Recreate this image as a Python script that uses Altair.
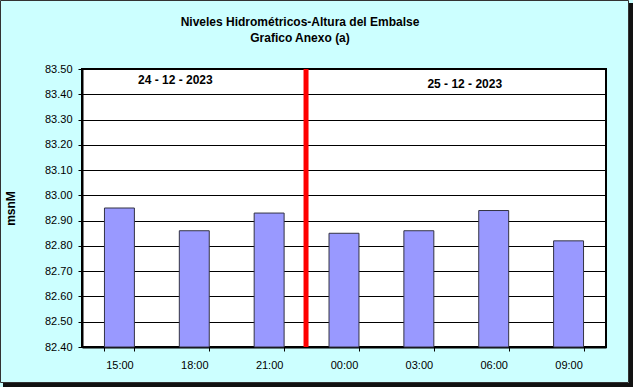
import altair as alt
import pandas as pd

hours = ["15:00", "18:00", "21:00", "00:00", "03:00", "06:00", "09:00"]
levels = [82.95, 82.86, 82.93, 82.85, 82.86, 82.94, 82.82]
date_labels = ["24 - 12 - 2023", "25 - 12 - 2023"]
date_positions = ["18:00", "06:00"]
date_levels = [83.455, 83.44]
date_dx = [-4, -14]
split_hour = ["00:00"]
title_lines = ["Niveles Hidrométricos-Altura del Embalse", "Grafico Anexo (a)"]
y_ticks = [82.4, 82.5, 82.6, 82.7, 82.8, 82.9, 83.0, 83.1, 83.2, 83.3, 83.4, 83.5]

df = pd.DataFrame({"hora": hours, "nivel": levels})
ddf = pd.DataFrame({"hora": date_positions, "nivel": date_levels, "label": date_labels, "dx": date_dx})
sdf = pd.DataFrame({"hora": split_hour})

FONT = "Liberation Sans"

xscale = alt.Scale(domain=hours, paddingInner=0.6, paddingOuter=0.3)
yscale = alt.Scale(domain=[82.4, 83.5], nice=False, zero=False)

x_axis = alt.Axis(labelAngle=0, tickBand="extent", grid=False,
                  labelFont=FONT, labelFontSize=11, labelColor="black",
                  domainColor="black", domainWidth=2, tickColor="black",
                  tickSize=4, labelPadding=8)
y_axis = alt.Axis(values=y_ticks, format=".2f", grid=True, gridColor="black",
                  gridWidth=1, labelFont=FONT, labelFontSize=11,
                  labelColor="black", domainColor="black", domainWidth=2,
                  tickColor="black", tickSize=4, labelPadding=6,
                  labelOverlap=False,
                  titleFont=FONT, titleFontSize=12, titleFontWeight="bold",
                  titleColor="black", titlePadding=27)

frame = alt.Chart(sdf).mark_rect(
    fill=None, stroke="#333333", strokeWidth=1, clip=False
).encode(
    x=alt.value(-81.5), x2=alt.value(546.5), y=alt.value(-68.5), y2=alt.value(313.5)
)
shadow = alt.Chart(sdf).mark_rect(fill="#111111", clip=False).encode(
    x=alt.value(547), x2=alt.value(551), y=alt.value(-66), y2=alt.value(318)
)
shadow2 = alt.Chart(sdf).mark_rect(fill="#111111", clip=False).encode(
    x=alt.value(-79), x2=alt.value(551), y=alt.value(314), y2=alt.value(318)
)

title1 = alt.Chart(sdf).mark_text(
    text=title_lines[0], font=FONT, fontSize=12, fontWeight="bold", color="black", clip=False
).encode(x=alt.value(218), y=alt.value(-47))
title2 = alt.Chart(sdf).mark_text(
    text=title_lines[1], font=FONT, fontSize=12, fontWeight="bold", color="black", clip=False
).encode(x=alt.value(218), y=alt.value(-31))

bars = alt.Chart(df).mark_bar(
    fill="#9999FF", stroke="#333344", strokeWidth=1
).encode(
    x=alt.X("hora:N", scale=xscale, sort=hours, title=None, axis=x_axis),
    y=alt.Y("nivel:Q", scale=yscale, title="msnM", axis=y_axis),
    y2=alt.datum(82.4),
)

split = alt.Chart(sdf).mark_rule(color="#FF0000", strokeWidth=5).encode(
    x=alt.X("hora:N", scale=xscale, sort=hours, bandPosition=0, title=None, axis=x_axis),
    xOffset=alt.value(-23),
    y=alt.value(0), y2=alt.value(278),
)

dates = alt.Chart(ddf).mark_text(
    font=FONT, fontSize=12, fontWeight="bold", color="black"
).encode(
    x=alt.X("hora:N", scale=xscale, sort=hours, title=None, axis=x_axis),
    y=alt.Y("nivel:Q", scale=yscale, title="msnM", axis=y_axis),
    text="label:N",
    xOffset=alt.XOffset("dx:Q", scale=None),
)

chart = alt.layer(shadow, shadow2, frame, title1, title2, bars, split, dates).properties(
    width=524, height=278,
    background="#CCFFFF",
    padding={"left": 82, "top": 69, "right": 27, "bottom": 40},
    autosize=alt.AutoSizeParams(type="none"),
).configure_view(fill="white", stroke="black", strokeWidth=2)

chart.save("out.html", embed_options={"renderer": "svg", "actions": False})
